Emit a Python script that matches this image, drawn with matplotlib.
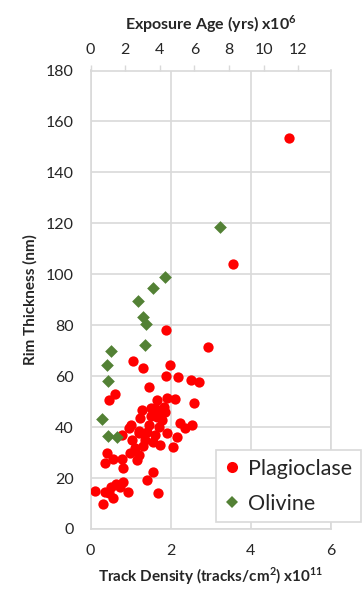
import matplotlib
matplotlib.use("Agg")
import matplotlib.pyplot as plt
from matplotlib.lines import Line2D

plt.rcParams['font.family'] = ['Lato', 'DejaVu Sans']
plt.rcParams['mathtext.fontset'] = 'custom'
plt.rcParams['mathtext.rm'] = 'Lato'
plt.rcParams['mathtext.bf'] = 'Lato:bold'

# Plagioclase: track density (x1e11 tracks/cm2) vs rim thickness (nm)
plag_x = [4.95, 3.57, 1.89, 2.93, 1.05, 1.32, 1.99, 1.89, 2.18, 2.51, 2.70, 1.45,
          0.61, 0.47, 1.65, 1.92, 2.11, 2.59, 1.61, 1.28, 1.76, 1.24, 1.45, 1.78,
          2.24, 2.53, 2.36, 0.95, 0.78, 1.20, 1.61, 1.90, 2.15, 1.03, 1.36, 1.74,
          2.05, 1.11, 0.99, 0.40, 1.15, 0.36, 0.57, 0.78, 0.82, 1.57, 1.40, 0.82,
          0.64, 0.50, 0.11, 0.93, 1.68, 0.45, 0.57, 0.30, 0.36, 0.74, 1.02, 1.22,
          1.52, 1.83, 1.50, 1.70, 1.40, 1.30, 1.55, 1.20, 1.85, 1.65]
plag_y = [153.5, 104.2, 78.2, 71.4, 66.0, 63.4, 64.2, 60.1, 59.6, 58.5, 57.9, 55.9,
          52.9, 50.7, 50.7, 51.6, 51.1, 49.4, 47.4, 46.7, 45.4, 43.5, 40.8, 42.8,
          41.5, 40.8, 39.5, 39.5, 36.9, 37.6, 36.9, 37.6, 36.3, 35.0, 35.0, 33.0,
          32.3, 31.7, 29.7, 30.0, 27.1, 25.8, 27.4, 27.4, 23.8, 22.5, 19.2, 18.6,
          17.6, 16.6, 15.0, 14.4, 14.0, 14.0, 12.1, 9.7, 14.7, 16.6, 41.0, 38.5,
          44.5, 48.0, 47.5, 40.0, 38.0, 32.5, 34.0, 29.0, 46.0, 44.0]

# Olivine
oliv_x = [3.24, 1.86, 1.55, 1.18, 1.30, 1.39, 1.35, 0.51, 0.40, 0.43, 0.28, 0.44, 0.66]
oliv_y = [118.7, 98.9, 94.5, 89.7, 83.1, 80.4, 72.3, 70.0, 64.4, 58.1, 43.2, 36.5, 36.0]

x_ticks = [0, 2, 4, 6]
y_ticks = list(range(0, 181, 20))
age_ticks = [0, 2, 4, 6, 8, 10, 12]

GRID = '#d9d9d9'
RED = '#ff0000'
GREEN = '#538135'
TXT = '#262626'

fig = plt.figure(figsize=(3.62, 5.90), dpi=100)
ax = fig.add_axes([90.5/362, 1-529/590, 240/362, 458.5/590])

ax.scatter(plag_x, plag_y, s=55, c=RED, marker='o', linewidths=0, zorder=3)
ax.scatter(oliv_x, oliv_y, s=42, c=GREEN, marker='D', linewidths=0, zorder=3)

ax.set_xlim(0, 6)
ax.set_ylim(0, 180)
ax.set_xticks(x_ticks)
ax.set_yticks(y_ticks)
ax.grid(True, color=GRID, linewidth=1.2, zorder=0)
ax.set_axisbelow(True)
for s in ax.spines.values():
    s.set_color(GRID)
    s.set_linewidth(1.2)
ax.tick_params(axis='both', length=0, labelsize=11.5, colors=TXT)
ax.tick_params(axis='x', pad=11)
ax.tick_params(axis='y', pad=12)

ax.set_xlabel('Track Density (tracks/cm$^{\\mathbf{2}}$) x10$^{\\mathbf{11}}$',
              fontsize=11, fontweight='bold', color=TXT, labelpad=5)
ax.set_ylabel('Rim Thickness (nm)', fontsize=11, fontweight='bold', color=TXT, labelpad=6)

ax2 = ax.twiny()
ax2.set_xlim(0, 13.85)
ax2.set_xticks(age_ticks)
ax2.tick_params(axis='x', direction='out', length=4, width=1, color=GRID,
                labelsize=11.5, labelcolor=TXT, pad=6)
for s in ax2.spines.values():
    s.set_visible(False)
ax2.set_xlabel('Exposure Age (yrs) x10$^{\\mathbf{6}}$', fontsize=11.5, fontweight='bold',
               color=TXT, labelpad=9)

handles = [Line2D([], [], marker='o', color=RED, linestyle='none', markersize=8,
                  markeredgewidth=0),
           Line2D([], [], marker='D', color=GREEN, linestyle='none', markersize=6,
                  markeredgewidth=0)]
leg = fig.legend(handles, ['Plagioclase', 'Olivine'], loc='upper left',
                 bbox_to_anchor=(216/362, 1-450/590), frameon=True, fancybox=False,
                 edgecolor=GRID, framealpha=1, fontsize=15.5, handlelength=0.7,
                 handletextpad=0.4, labelspacing=0.7, borderpad=0.4,
                 borderaxespad=0)
leg.get_frame().set_linewidth(1.2)
for t in leg.get_texts():
    t.set_color(TXT)

fig.savefig('out.png', dpi=100)
